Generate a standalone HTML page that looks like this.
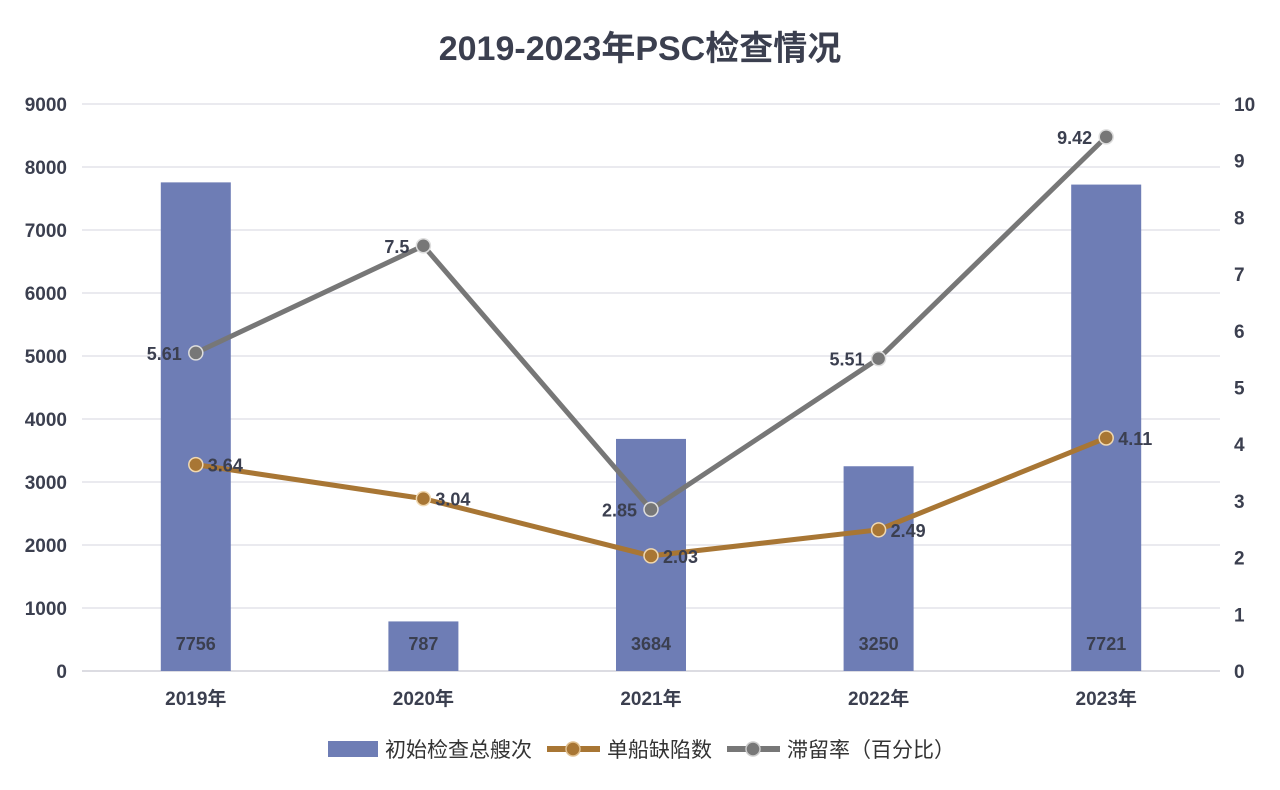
<!DOCTYPE html>
<html><head><meta charset="utf-8"><style>
html,body{margin:0;padding:0;background:#fff;width:1280px;height:790px;overflow:hidden}
text{font-family:"Liberation Sans","Noto Sans CJK SC",sans-serif}
</style></head><body>
<svg id="chart" width="1280" height="790" xmlns="http://www.w3.org/2000/svg">
<text x="640" y="60" text-anchor="middle" font-size="34" font-weight="bold" fill="#3b3f4f">2019-2023年PSC检查情况</text>
<g id="grid"></g><g id="bars"></g><g id="lines"></g><g id="labels"></g>
<g>
<rect x="328" y="741" width="50" height="16" fill="#6e7db5"/>
<text x="385" y="757" font-size="21" fill="#333">初始检查总艘次</text>
<line x1="547" y1="749" x2="600" y2="749" stroke="#a87634" stroke-width="6"/>
<circle cx="573" cy="749" r="7" fill="#a87634" stroke="#e0c090" stroke-width="1.5"/>
<text x="607" y="757" font-size="21" fill="#333">单船缺陷数</text>
<line x1="727" y1="749" x2="780" y2="749" stroke="#777" stroke-width="6"/>
<circle cx="753" cy="749" r="7" fill="#777" stroke="#ccc" stroke-width="1.5"/>
<text x="787" y="757" font-size="21" fill="#333">滞留率（百分比）</text>
</g>
</svg>
<script>
const categories=["2019年","2020年","2021年","2022年","2023年"];
const inspections=[7756,787,3684,3250,7721];
const defects=[3.64,3.04,2.03,2.49,4.11];
const detention=[5.61,7.5,2.85,5.51,9.42];
const leftTicks=[0,1000,2000,3000,4000,5000,6000,7000,8000,9000];
const rightTicks=[0,1,2,3,4,5,6,7,8,9,10];
const NS="http://www.w3.org/2000/svg";
const X0=82,X1=1220,Y0=671,Y1=104;
const band=(X1-X0)/categories.length;
const xc=i=>X0+band*(i+0.5);
const yL=v=>Y0-(v/9000)*(Y0-Y1);
const yR=v=>Y0-(v/10)*(Y0-Y1)*(9000/9000)*(1);
// right axis: 10 at same pixel as ~9050? measured 10 at y=104
const yRR=v=>Y0-(v/10)*(Y0-Y1);
function mk(tag,attrs,parent,txt){const e=document.createElementNS(NS,tag);for(const k in attrs)e.setAttribute(k,attrs[k]);if(txt!==undefined)e.textContent=txt;document.getElementById(parent).appendChild(e);return e;}
leftTicks.forEach(t=>{
 const l=mk('line',{x1:X0,x2:X1,y1:yL(t),y2:yL(t),stroke:t===0?'#d0d0d8':'#e3e3ea','stroke-width':1.5},'grid');
 
 
 const tx=mk('text',{x:67,y:yL(t)+7,'text-anchor':'end','font-size':19,'font-weight':'bold',fill:'#3b3f4f'},'grid',t);
 
 
});
rightTicks.forEach(t=>{
 const tx=mk('text',{x:1234,y:yRR(t)+7,'font-size':19,'font-weight':'bold',fill:'#3b3f4f'},'grid',t);
 
 
});
categories.forEach((c,i)=>{
 const tx=mk('text',{x:xc(i),y:705,'text-anchor':'middle','font-size':19,'font-weight':'bold',fill:'#3b3f4f'},'grid',c);
 
 
 const b=mk('rect',{x:xc(i)-35,y:yL(inspections[i]),width:70,height:Y0-yL(inspections[i]),fill:'#6e7db5'},'bars');
 
 
 const bl=mk('text',{x:xc(i),y:650,'text-anchor':'middle','font-size':18,'font-weight':'bold',fill:'#3b3f4f'},'labels',inspections[i]);
 
 
});
function series(vals,color,mfill,mstroke,name,labelFn){
 const p=mk('polyline',{points:vals.map((v,i)=>xc(i)+','+yRR(v)).join(' '),fill:'none',stroke:color,'stroke-width':5,'stroke-linejoin':'round'},'lines');
 
 
 vals.forEach((v,i)=>{
  const c=mk('circle',{cx:xc(i),cy:yRR(v),r:7,fill:mfill,stroke:mstroke,'stroke-width':1.5},'lines');
  
  
  const [dx,anchor]=labelFn(i);
  const t=mk('text',{x:xc(i)+dx,y:yRR(v)+7,'text-anchor':anchor,'font-size':18,'font-weight':'bold',fill:'#3b3f4f'},'labels',v);
  
  
 });
}
series(detention,'#777','#777','#ddd','detention',()=>[-14,'end']);
series(defects,'#a87634','#a87634','#f0d8b0','defects',()=>[12,'start']);
</script>
</body></html>
